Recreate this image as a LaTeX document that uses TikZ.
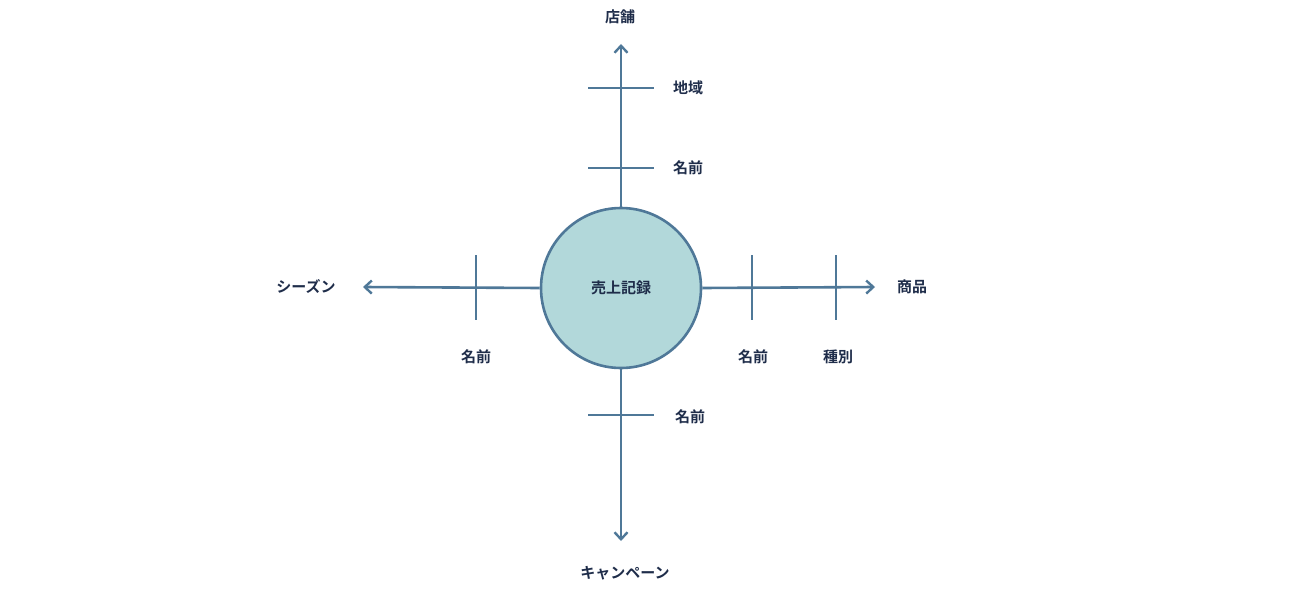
\documentclass[tikz,border=0pt]{standalone}
\usepackage{fontspec}
\newfontfamily\cjk{Noto Sans CJK JP}[BoldFont={* Bold}]
\usetikzlibrary{arrows.meta}
\definecolor{ax}{HTML}{4F7898}
\definecolor{cf}{HTML}{B2D8DA}
\definecolor{tx}{HTML}{1F2D4A}
\begin{document}
\begin{tikzpicture}[x=1pt,y=-1pt,
  lbl/.style={font=\cjk\bfseries\fontsize{15}{18}\selectfont,text=tx,inner sep=0pt},
  axis/.style={draw=ax,line width=2.6pt,-{Straight Barb[length=7pt,width=13pt,line width=2.4pt]}},
  tick/.style={draw=ax,line width=2.6pt}]
\useasboundingbox (0,0) rectangle (1308,594);
\node[circle,draw=ax,fill=cf,line width=2.6pt,minimum size=160pt,lbl] (c) at (621,288) {売上記録};
\coordinate (tu) at (621,44);
\coordinate (tl) at (363,287);
\coordinate (tr) at (875,287);
\coordinate (td) at (621,541);
\draw[axis] (c.north) -- (tu);
\draw[axis] (c.west) -- (tl);
\draw[axis] (c.east) -- (tr);
\draw[axis] (c.south) -- (td);
\coordinate (a1) at (588,88); \coordinate (a2) at (654,88);
\coordinate (b1) at (588,168); \coordinate (b2) at (654,168);
\coordinate (d1) at (588,415); \coordinate (d2) at (654,415);
\coordinate (l1) at (476,255); \coordinate (l2) at (476,320);
\coordinate (r1) at (752,255); \coordinate (r2) at (752,320);
\coordinate (s1) at (836,255); \coordinate (s2) at (836,320);
\draw[tick] (a1)--(a2); \draw[tick] (b1)--(b2); \draw[tick] (d1)--(d2);
\draw[tick] (l1)--(l2); \draw[tick] (r1)--(r2); \draw[tick] (s1)--(s2);
\node[lbl] (n1) at (620,17) {店舗};
\node[lbl] (n2) at (688,88) {地域};
\node[lbl] (n3) at (688,168) {名前};
\node[lbl] (n4) at (306,287) {シーズン};
\node[lbl] (n5) at (476,357) {名前};
\node[lbl] (n6) at (753,357) {名前};
\node[lbl] (n7) at (838,357) {種別};
\node[lbl] (n8) at (912,287) {商品};
\node[lbl] (n9) at (690,417) {名前};
\node[lbl] (n10) at (625,573) {キャンペーン};
\end{tikzpicture}
\end{document}
